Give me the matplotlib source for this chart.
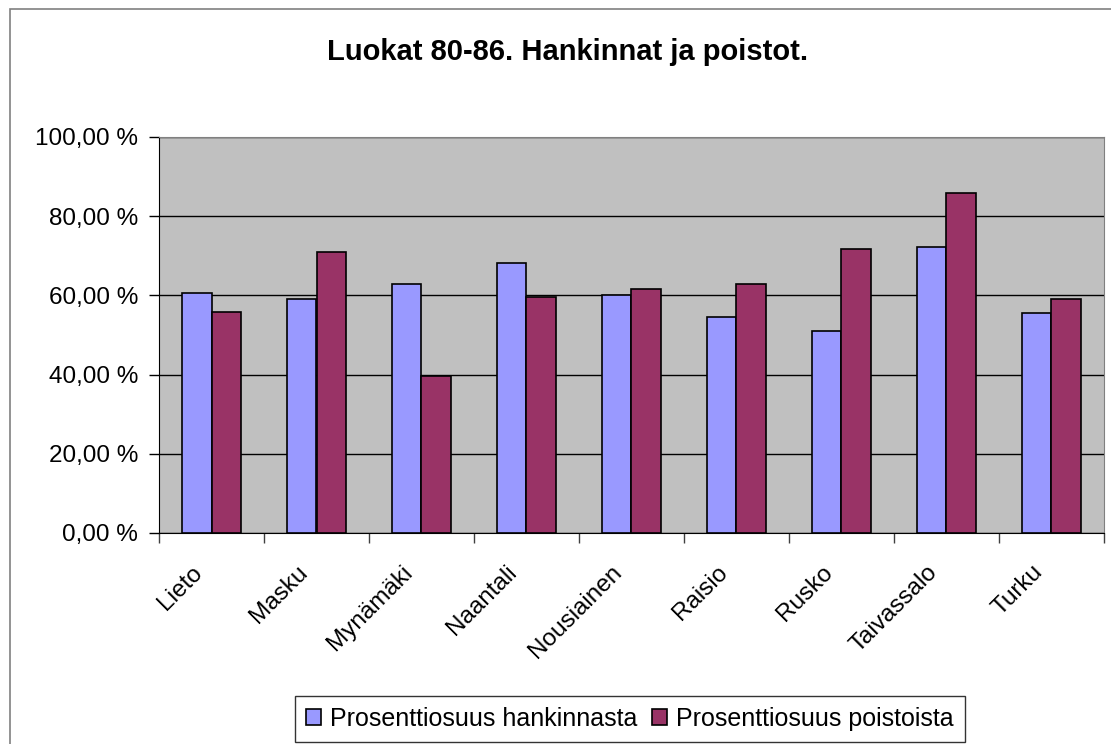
# Excel-style grouped bar chart: hankinnat ja poistot, luokat 80-86

import numpy as np
import matplotlib.pyplot as plt
from matplotlib.patches import Rectangle
from matplotlib.ticker import FuncFormatter

plt.rcParams['font.family'] = ['Liberation Sans', 'DejaVu Sans']

kunnat = ['Lieto', 'Masku', 'Mynämäki', 'Naantali', 'Nousiainen',
          'Raisio', 'Rusko', 'Taivassalo', 'Turku']
hankinnasta = [60.5, 59.1, 62.9, 68.2, 60.1, 54.5, 51.0, 72.2, 55.5]
poistoista = [55.9, 71.0, 39.6, 59.6, 61.6, 62.9, 71.7, 85.9, 59.1]

fig = plt.figure(figsize=(11.11, 7.44), dpi=100)

# chart area frame (runs off the right and bottom edge like the original)
fig.patches.append(Rectangle((10 / 1111, -0.1), 1.2, 1 - 9 / 744 + 0.1,
                             transform=fig.transFigure, fill=False,
                             edgecolor='#808080', linewidth=1.2))

ax = fig.add_axes([159 / 1111, 1 - 533 / 744, (1104 - 159) / 1111, (533 - 137) / 744])
ax.set_facecolor('#C0C0C0')

x = np.arange(len(kunnat))
w = 0.2857
ax.bar(x - w / 2, hankinnasta, w, color='#9999FF', edgecolor='black',
       linewidth=1.2, label='Prosenttiosuus hankinnasta', zorder=3)
ax.bar(x + w / 2, poistoista, w, color='#993366', edgecolor='black',
       linewidth=1.2, label='Prosenttiosuus poistoista', zorder=3)

ax.set_xlim(-0.5, len(kunnat) - 0.5)
ax.set_ylim(0, 100)
ax.set_yticks(np.arange(0, 101, 20))
ax.yaxis.set_major_formatter(FuncFormatter(lambda v, p: f'{v:.2f}'.replace('.', ',') + ' %'))
ax.grid(axis='y', color='black', linewidth=1.0, zorder=1)

# labels sit a little left of the category centre, like Excel does
ax.set_xticks(x - 0.12)
ax.set_xticklabels(kunnat, rotation=45, ha='right', va='center',
                   rotation_mode='anchor')
ax.set_xticks(np.arange(-0.5, len(kunnat), 1), minor=True)
ax.tick_params(axis='x', which='major', length=0, pad=26, labelsize=17.5)
ax.tick_params(axis='x', which='minor', length=7, width=1, color='#404040')
ax.tick_params(axis='y', length=7, width=1, labelsize=17.5, pad=8)

for s in ['top', 'right']:
    ax.spines[s].set_color('#808080')
for s in ['left', 'bottom']:
    ax.spines[s].set_color('black')

fig.text(568 / 1111, 1 - 52 / 744, 'Luokat 80-86. Hankinnat ja poistot.',
         ha='center', va='center', fontsize=21, fontweight='bold')

leg = fig.legend(loc='center', bbox_to_anchor=(630 / 1111, 1 - 719 / 744),
                 ncol=2, fontsize=18, frameon=True, fancybox=False,
                 edgecolor='black', handlelength=0.6, handleheight=0.6,
                 handletextpad=0.35, columnspacing=0.6, borderpad=0.45)
leg.get_frame().set_linewidth(1.0)

fig.savefig('out.png', dpi=100)
